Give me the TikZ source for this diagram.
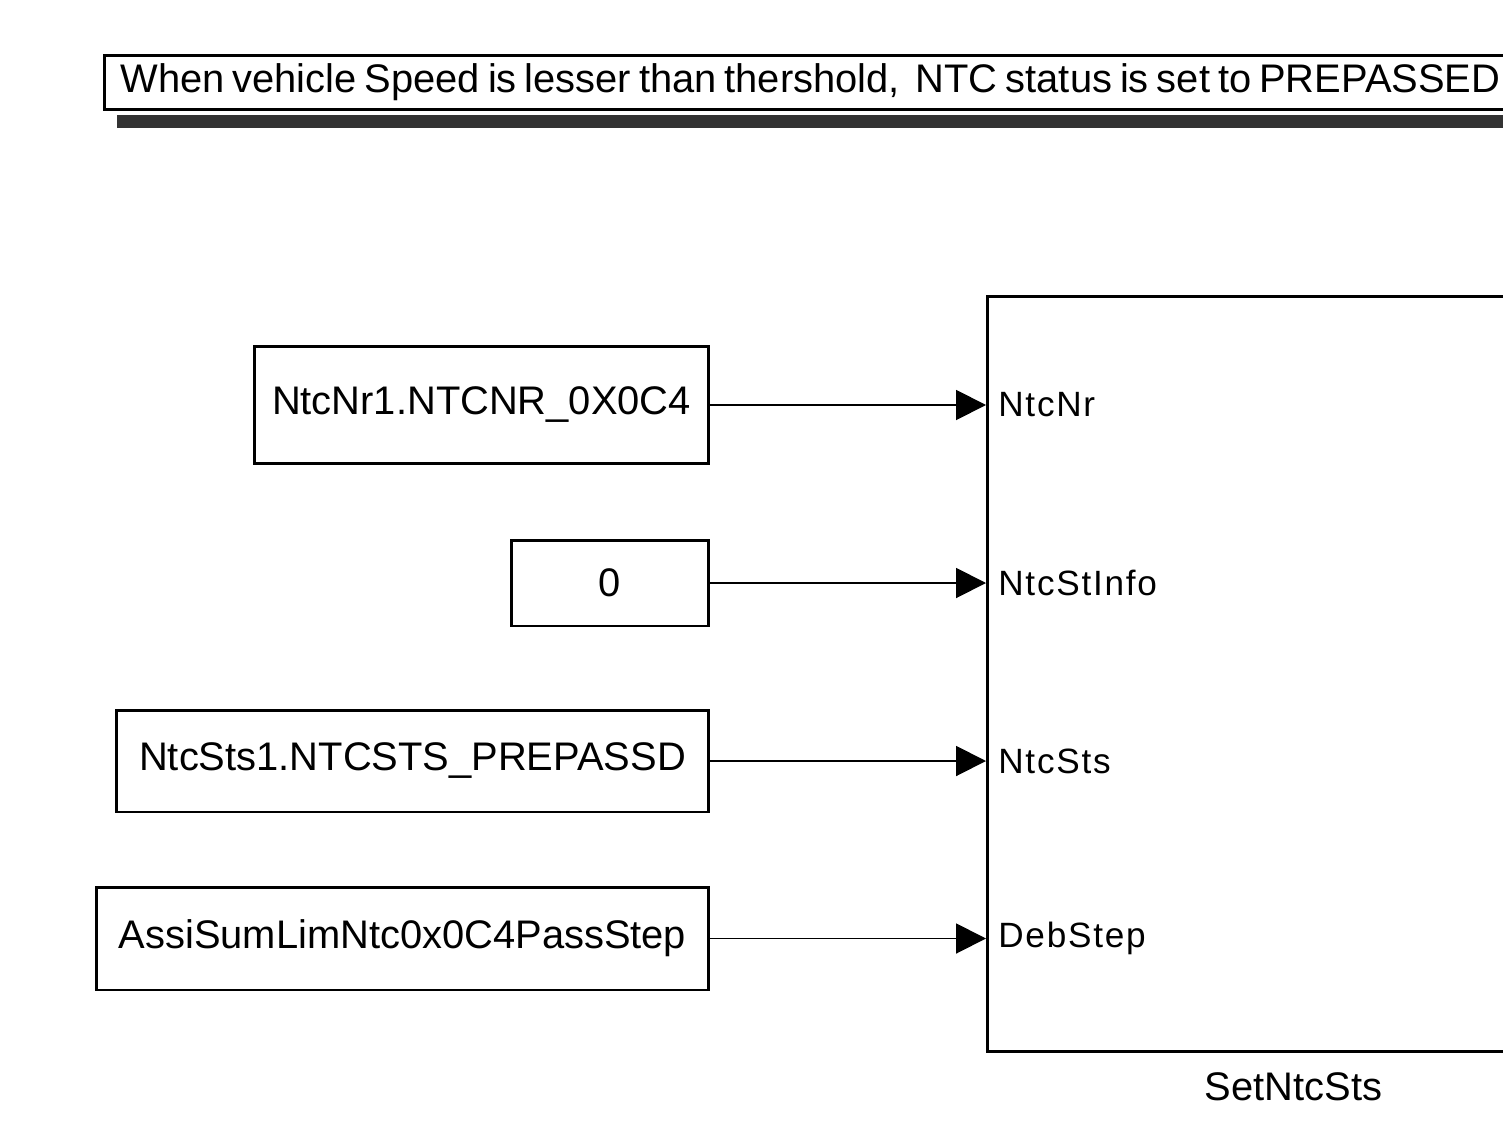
\documentclass[tikz,border=0pt]{standalone}
\usepackage{fontspec}
\setmainfont{Liberation Sans}
\usetikzlibrary{positioning,arrows.meta}
\definecolor{shadowgray}{HTML}{333333}
\newcommand{\blockfont}{\fontsize{22.7}{27}\selectfont}
\newfontfamily\notefamily[WordSpace=0.72]{Liberation Sans}
\newcommand{\notefont}{\notefamily\fontsize{22.7}{27}\selectfont}
\newfontfamily\portfamily[LetterSpace=5]{Liberation Sans}
\newcommand{\portfont}{\portfamily\fontsize{20}{24}\selectfont}

\begin{document}
\begin{tikzpicture}[
    x=0.02cm, y=-0.02cm,
    every node/.style={inner sep=0pt},
    blockbox/.style={draw, line width=1.7pt, align=center, font=\blockfont},
    port/.style={font=\portfont},
    sig/.style={-{Triangle[length=17pt, width=17pt]}, line width=1.1pt},
  ]
  \path[use as bounding box, clip] (0,0) rectangle (1503,1128);

  % annotation on top, with its shadow bar
  \node[blockbox, anchor=north west, minimum height=1.08cm, inner xsep=0.32cm,
        font=\notefont] (title) at (103,54)
        {\makebox[28.5cm][l]{When vehicle Speed is lesser than thershold,~ NTC status is set to PREPASSED}};
  \fill[shadowgray] ([xshift=0.28cm, yshift=-0.08cm]title.south west) rectangle ++(1600,13);

  % source blocks (left column)
  \node[blockbox, minimum width=9.1cm,   minimum height=2.36cm] (nr)   at (481.5,405)  {NtcNr1.NTCNR\_0X0C4};
  \node[blockbox, minimum width=3.96cm,  minimum height=1.72cm] (info) at (610,583)    {0};
  \node[blockbox, minimum width=11.86cm, minimum height=2.04cm] (sts)  at (412.5,761)  {NtcSts1.NTCSTS\_PREPASSD};
  \node[blockbox, minimum width=12.26cm, minimum height=2.06cm] (deb)  at (402.5,938.5) {AssiSumLimNtc0x0C4PassStep};

  % subsystem block (runs off the right edge)
  \node[draw, line width=1.7pt, anchor=north west, minimum width=12.24cm,
        minimum height=15.1cm]          (blk) at (986,295) {};
  \node[below=0.38cm of blk.south, font=\blockfont] (blkname) {SetNtcSts};

  % input ports
  \coordinate (p1) at (blk.west |- nr.east);
  \coordinate (p2) at (blk.west |- info.east);
  \coordinate (p3) at (blk.west |- sts.east);
  \coordinate (p4) at (blk.west |- deb.east);
  \node[port, right=0.24cm of p1] (lp1) {NtcNr};
  \node[port, right=0.24cm of p2] (lp2) {NtcStInfo};
  \node[port, right=0.24cm of p3] (lp3) {NtcSts};
  \node[port, right=0.24cm of p4] (lp4) {DebStep};

  % signal lines
  \draw[sig] (nr.east)   -- (p1);
  \draw[sig] (info.east) -- (p2);
  \draw[sig] (sts.east)  -- (p3);
  \draw[sig] (deb.east)  -- (p4);
\end{tikzpicture}
\end{document}
